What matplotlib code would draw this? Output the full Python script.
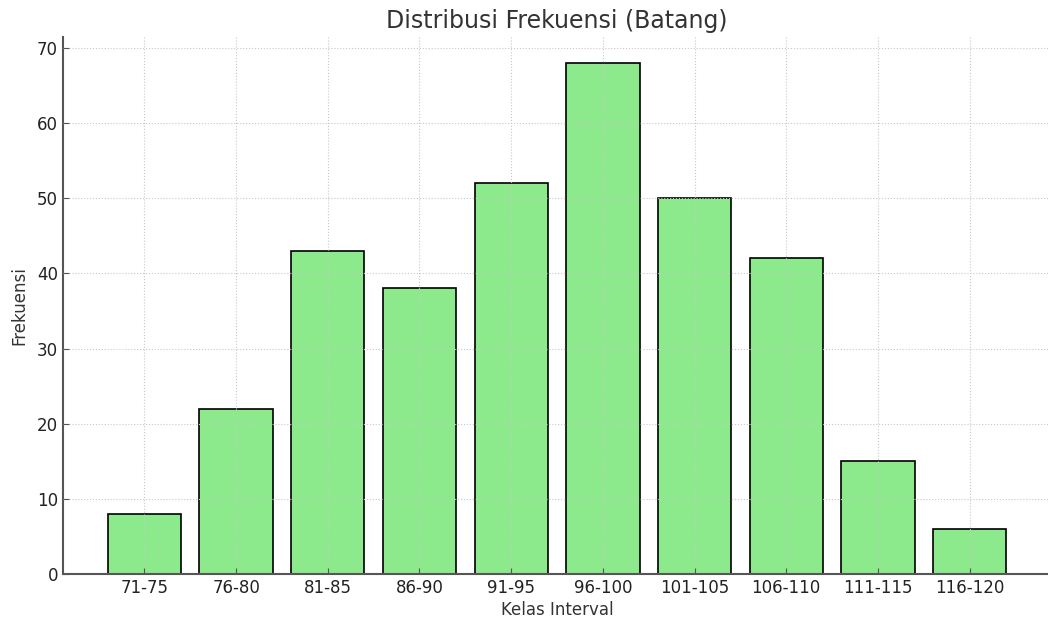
import matplotlib
matplotlib.use("Agg")
import matplotlib.pyplot as plt

kelas = ["71-75", "76-80", "81-85", "86-90", "91-95", "96-100",
         "101-105", "106-110", "111-115", "116-120"]
frekuensi = [8, 22, 43, 38, 52, 68, 50, 42, 15, 6]

fig = plt.figure(figsize=(10.48, 6.21), dpi=100)
ax = fig.add_axes([0.060, 0.0757, 0.943, 0.864])

x = range(len(kelas))
ax.bar(x, frekuensi, width=0.8, color="#8CEA8C", edgecolor="black",
       linewidth=1.2, zorder=2)
ax.grid(True, linestyle=":", color="#c8c8c8", linewidth=0.8, zorder=3)
ax.set_axisbelow(False)

ax.set_xticks(list(x))
ax.set_xticklabels(kelas, fontsize=12, color="#222222")
ax.tick_params(axis="y", labelsize=12, labelcolor="#222222")
ax.tick_params(direction="in", length=4, color="#555555")
ax.set_xlim(-0.89, 9.89)
ax.set_ylim(0, 71.4)

for s in ["top", "right"]:
    ax.spines[s].set_visible(False)
for s in ["left", "bottom"]:
    ax.spines[s].set_color("#555555")
    ax.spines[s].set_linewidth(1.5)

ax.set_title("Distribusi Frekuensi (Batang)", fontsize=17, color="#333333", pad=7)
ax.set_xlabel("Kelas Interval", fontsize=12, color="#333333", labelpad=3)
ax.set_ylabel("Frekuensi", fontsize=12, color="#333333", labelpad=6)

fig.savefig("out.png", dpi=100)
